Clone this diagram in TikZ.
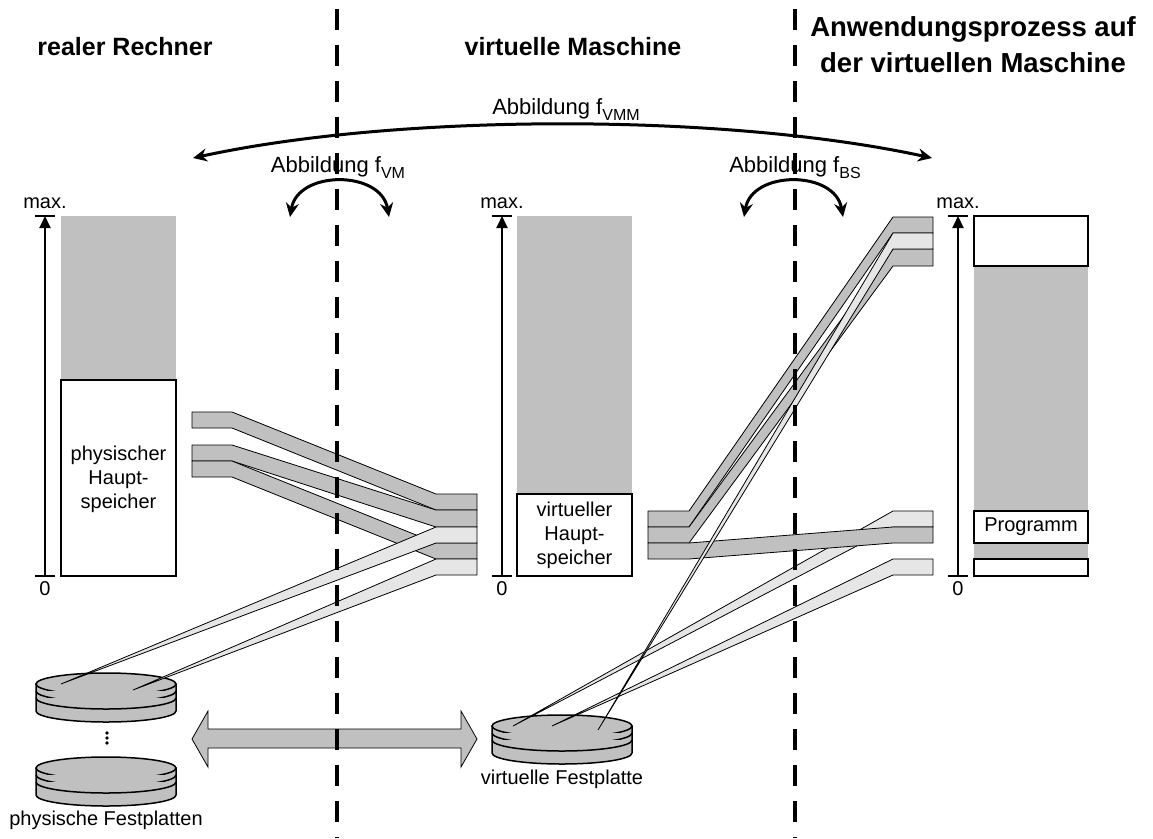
\documentclass[tikz,border=0pt]{standalone}
\usepackage{fontspec}
\setmainfont{Liberation Sans}
\usetikzlibrary{arrows.meta}
\definecolor{memgray}{RGB}{192,192,192}
\definecolor{memlight}{RGB}{230,230,230}

% one disk stack: top surface centred at (#1,#2)
\newcommand{\diskstack}[2]{%
  \filldraw[diskline] (#1-70,#2) -- (#1-70,#2+27)
    arc[start angle=180,end angle=0,x radius=70,y radius=11] -- (#1+70,#2) -- cycle;
  \filldraw[diskline] (#1,#2) ellipse[x radius=70,y radius=11];
  \draw[diskline] (#1-70,#2+7) arc[start angle=180,end angle=0,x radius=70,y radius=11];
  \draw[diskline] (#1-70,#2+14) arc[start angle=180,end angle=0,x radius=70,y radius=11];
}
% lowered index of a mapping name
\newcommand{\mapidx}[1]{\raisebox{-6pt}{\fontsize{16}{16}\selectfont #1}}

\begin{document}
\begin{tikzpicture}[x=1pt,y=-1pt,
  font=\fontsize{20}{24}\selectfont,
  title/.style={font=\fontsize{25}{30}\selectfont\bfseries,align=center},
  bigtitle/.style={font=\fontsize{27.5}{36}\selectfont\bfseries,align=center},
  maplabel/.style={font=\fontsize{22}{24}\selectfont},
  gstrip/.style={fill=memgray,draw=black,line width=0.8pt},
  lstrip/.style={fill=memlight,draw=black,line width=0.8pt},
  membox/.style={draw=black,line width=2pt,fill=white},
  axisline/.style={line width=2pt,-{Triangle[length=12pt,width=11pt]}},
  axistick/.style={line width=2.5pt},
  sepline/.style={line width=3.2pt,dash pattern=on 21pt off 15pt,dash phase=27pt},
  maparrow/.style={line width=3pt,{Stealth[length=14pt,width=13pt]}-{Stealth[length=14pt,width=13pt]}},
  diskline/.style={fill=memgray,draw=black,line width=1.5pt},
  fatarrow/.style={fill=memgray,draw=black,line width=0.8pt}]

\useasboundingbox (0,0) rectangle (1153,838);
\fill[white] (0,0) rectangle (1153,838);

% ---------- titles ----------
\node[title] (tReal) at (125,47) {realer Rechner};
\node[title] (tVM) at (573,47) {virtuelle Maschine};
\node[bigtitle] (tApp) at (973,45) {Anwendungsprozess auf\\der virtuellen Maschine};

% ---------- address axes ----------
\foreach \n/\x in {L/45,M/502,R/958}{
  \coordinate (\n zero) at (\x,576);
  \coordinate (\n max) at (\x,216);
  \coordinate (\n tl) at (\x-10,216);
  \coordinate (\n tr) at (\x+10,216);
  \coordinate (\n bl) at (\x-10,576);
  \coordinate (\n br) at (\x+10,576);
  \draw[axistick] (\n tl) -- (\n tr);
  \draw[axistick] (\n bl) -- (\n br);
  \draw[axisline] (\n zero) -- (\n max);
  \node (\n maxlbl) at (\x,203) {max.};
  \node (\n zerolbl) at (\x,589) {0};
}

% ---------- physical main memory ----------
\fill[memgray] (61,216) rectangle (176,380);
\draw[membox] (61,380) rectangle (176,576);
\node[align=center] (physmem) at (118.5,479) {physischer\\Haupt-\\speicher};

% ---------- virtual main memory ----------
\fill[memgray] (517,216) rectangle (632,494);
\draw[membox] (517,494) rectangle (632,576);
\node[align=center] (virtmem) at (574.5,535) {virtueller\\Haupt-\\speicher};

% ---------- process address space ----------
\fill[memgray] (974,216) rectangle (1088,576);
\draw[membox] (974,216) rectangle (1088,266);
\draw[membox] (974,511) rectangle (1088,543);
\draw[membox] (974,559) rectangle (1088,576);
\node (prog) at (1031,527) {Programm};

% ---------- disks ----------
\diskstack{106}{684}
\diskstack{106}{768}
\diskstack{562}{726}
\foreach \y in {733,738,743} \fill (107,\y) circle[radius=1.8];
\node (pdisks) at (106,820) {physische Festplatten};
\node (vdisk) at (562,779) {virtuelle Festplatte};

% ---------- fat double arrow between the disks ----------
\filldraw[fatarrow] (192,739) -- (208,711) -- (208,729) -- (461,729) -- (461,711)
  -- (477,739) -- (461,767) -- (461,748) -- (208,748) -- (208,767) -- cycle;

% ---------- mapping f_VM: real machine -> virtual machine ----------
\filldraw[gstrip] (192,412) -- (232,412) -- (436,494) -- (477,494) -- (477,510) -- (436,510) -- (232,428) -- (192,428) -- cycle;
\filldraw[gstrip] (192,445) -- (232,445) -- (436,510) -- (477,510) -- (477,527) -- (436,527) -- (232,461) -- (192,461) -- cycle;
\filldraw[gstrip] (192,461) -- (232,461) -- (436,543) -- (477,543) -- (477,559) -- (436,559) -- (232,477) -- (192,477) -- cycle;
\filldraw[lstrip] (61,684) -- (436,527) -- (477,527) -- (477,543) -- (436,543) -- cycle;
\filldraw[lstrip] (133,690) -- (436,559) -- (477,559) -- (477,575) -- (436,575) -- cycle;

% ---------- mapping f_BS: virtual machine -> process ----------
\filldraw[lstrip] (513,726) -- (893,511) -- (933,511) -- (933,527) -- (893,527) -- cycle;
\filldraw[lstrip] (552,726) -- (893,559) -- (933,559) -- (933,575) -- (893,575) -- cycle;
\filldraw[gstrip] (648,511) -- (689,511) -- (893,217) -- (933,217) -- (933,233) -- (893,233) -- (689,527) -- (648,527) -- cycle;
\filldraw[gstrip] (648,527) -- (689,527) -- (893,249) -- (933,249) -- (933,266) -- (893,266) -- (689,543) -- (648,543) -- cycle;
\filldraw[gstrip] (648,543) -- (689,543) -- (893,527) -- (933,527) -- (933,543) -- (893,543) -- (689,559) -- (648,559) -- cycle;
\filldraw[lstrip] (598,730) -- (893,233) -- (933,233) -- (933,249) -- (893,249) -- cycle;

% ---------- mapping arrows and labels ----------
\coordinate (vmmL) at (193,158);
\coordinate (vmmR) at (932,158);
\draw[maparrow] (vmmL) .. controls (400,113) and (725,113) .. (vmmR);
\node[maplabel] (lblVMM) at (566,110) {Abbildung f\mapidx{VMM}};

\coordinate (vmL) at (290,217);
\coordinate (vmR) at (389,217);
\draw[maparrow] (vmL) .. controls (298,170) and (381,170) .. (vmR);
\node[maplabel] (lblVM) at (338,168) {Abbildung f\mapidx{VM}};

\coordinate (bsL) at (744,217);
\coordinate (bsR) at (843,217);
\draw[maparrow] (bsL) .. controls (752,170) and (835,170) .. (bsR);
\node[maplabel] (lblBS) at (795,168) {Abbildung f\mapidx{BS}};

% ---------- layer separators ----------
\coordinate (sepAtop) at (337,0);
\coordinate (sepAbot) at (337,838);
\coordinate (sepBtop) at (795,0);
\coordinate (sepBbot) at (795,838);
\draw[sepline] (sepAtop) -- (sepAbot);
\draw[sepline] (sepBtop) -- (sepBbot);

\end{tikzpicture}
\end{document}
